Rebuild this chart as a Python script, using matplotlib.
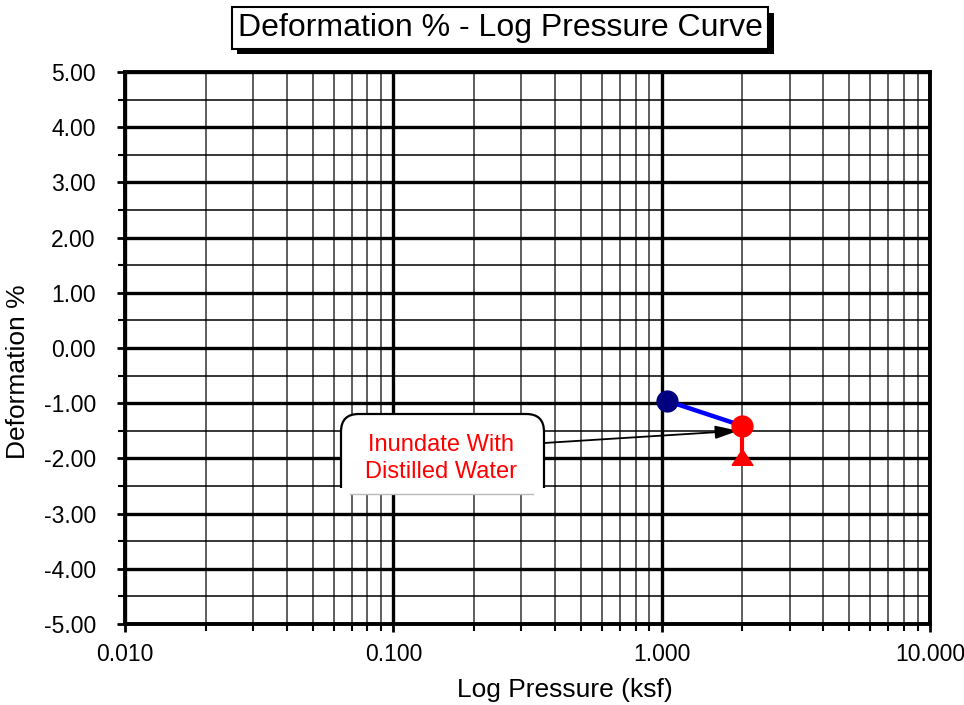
import matplotlib
matplotlib.use("Agg")
import matplotlib.pyplot as plt
from matplotlib.ticker import FixedLocator, FuncFormatter, LogLocator, MultipleLocator
from matplotlib.patches import FancyBboxPatch, Rectangle
from matplotlib.lines import Line2D
import matplotlib.patheffects as pe

plt.rcParams['font.family'] = ['Liberation Sans', 'DejaVu Sans']

# data
load_pressure = [1.05, 2.0]
load_deform = [-0.96, -1.41]
inund_pressure = [2.0, 2.0]
inund_deform = [-1.41, -1.97]
title = "Deformation % - Log Pressure Curve"
xlabel = "Log Pressure (ksf)"
ylabel = "Deformation %"
note = "Inundate With\nDistilled Water"
note_xy = (0.151, -2.0)
arrow_tip = (1.93, -1.5)

W, H = 964, 705
fig = plt.figure(figsize=(W / 100, H / 100), dpi=100)
L, R, T, B = 125, 930, 72, 624
ax = fig.add_axes([L / W, 1 - B / H, (R - L) / W, (B - T) / H])
ax.set_xscale('log')
ax.set_xlim(0.01, 10)
ax.set_ylim(-5, 5)

def afx(px):
    return (px - L) / (R - L)

def afy(py):
    return (B - py) / (B - T)

# grids
ax.xaxis.set_major_locator(FixedLocator([0.01, 0.1, 1, 10]))
ax.xaxis.set_minor_locator(LogLocator(base=10, subs=range(2, 10)))
ax.yaxis.set_major_locator(MultipleLocator(1))
ax.yaxis.set_minor_locator(MultipleLocator(0.5))
ax.grid(True, which='major', axis='both', color='black', lw=2.4)
ax.grid(True, which='minor', axis='x', color='#333333', lw=1.1)
ax.grid(True, which='minor', axis='y', color='black', lw=1.1)
ax.set_axisbelow(True)

ax.xaxis.set_major_formatter(FuncFormatter(lambda v, p: f"{v:.3f}"))
ax.xaxis.set_minor_formatter(FuncFormatter(lambda v, p: ""))
ax.yaxis.set_major_formatter(FuncFormatter(lambda v, p: f"{v:.2f}"))
ax.tick_params(axis='both', which='major', labelsize=16.5, direction='out', length=6, width=2)
ax.tick_params(axis='y', which='major', pad=15)
ax.tick_params(axis='x', which='major', pad=8)
ax.tick_params(axis='both', which='minor', direction='out', length=5, width=1.5)
for s in ax.spines.values():
    s.set_linewidth(2.8)

ax.set_xlabel(xlabel, fontsize=19, va='center')
ax.xaxis.set_label_coords(afx(565), afy(690))
ax.set_ylabel(ylabel, fontsize=19, va='center')
ax.yaxis.set_label_coords(afx(18), afy(372))

# data lines
ax.plot(load_pressure, load_deform, color='#0000FF', lw=3.2, zorder=4)
ax.plot(load_pressure[:1], load_deform[:1], 'o', color='#000080', ms=15, zorder=5)
ax.plot(inund_pressure, inund_deform, color='red', lw=3, zorder=4)
tri = [(-1, -0.75), (1, -0.75), (0, 0.75), (-1, -0.75)]
ax.plot(inund_pressure[1:], inund_deform[1:], marker=tri, color='red', ms=15, ls='none', zorder=5)

# annotation box (bottom border cut off as in the original)
clip = Rectangle((afx(330), afy(488)), afx(560) - afx(330), afy(405) - afy(488),
                 transform=ax.transAxes, visible=False)
ax.add_patch(clip)
box = FancyBboxPatch((afx(341), afy(505)), afx(544) - afx(341), afy(414) - afy(505),
                     boxstyle='round,pad=0,rounding_size=0.022', transform=ax.transAxes,
                     fc='white', ec='black', lw=1.6, zorder=6, mutation_aspect=(R - L) / (B - T))
ax.add_patch(box)
box.set_clip_path(clip)
ax.add_patch(Rectangle((afx(343), afy(494)), afx(542) - afx(343), afy(484) - afy(494),
                       transform=ax.transAxes, fc='white', ec='none', zorder=6))
ax.add_line(Line2D([afx(350), afx(533)], [afy(494), afy(494)], transform=ax.transAxes,
                   color='#bbbbbb', lw=1, zorder=6))
ax.text(note_xy[0], note_xy[1], note, fontsize=17, color='red', ha='center', va='center',
        linespacing=1.3, zorder=7)
ax.annotate('', xy=arrow_tip, xytext=(afx(544), afy(443)), textcoords='axes fraction',
            arrowprops=dict(arrowstyle='-|>,head_length=1.4,head_width=0.4', color='black', lw=1.3,
                            shrinkA=0, shrinkB=0),
            zorder=7)

ax.plot(load_pressure[1:], load_deform[1:], 'o', color='red', ms=15, zorder=8)

# title
fig.text(500 / W, 1 - 28 / H, title, fontsize=23, ha='center', va='center',
         bbox=dict(boxstyle='square,pad=0.18', fc='white', ec='black', lw=1.5,
                   path_effects=[pe.withSimplePatchShadow(offset=(4, -4), shadow_rgbFace='black', alpha=1)]))

fig.savefig("out.png", dpi=100)
